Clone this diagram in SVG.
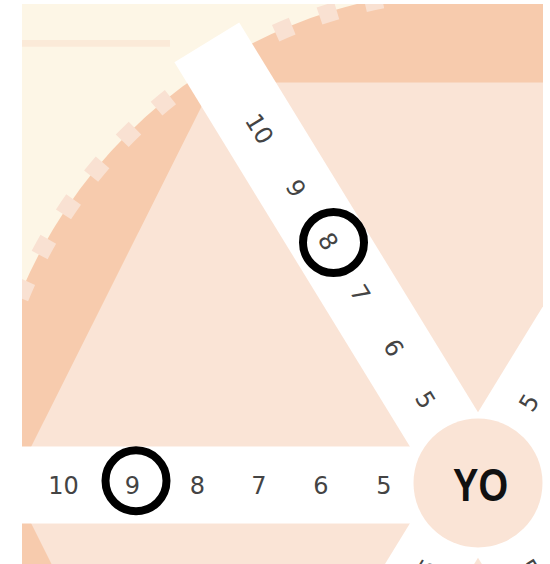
<svg xmlns="http://www.w3.org/2000/svg" width="550" height="564" viewBox="0 0 550 564">
  <defs>
    <clipPath id="frame"><rect x="22" y="4" width="521" height="560"/></clipPath>
    <style>
      .num{font-family:"DejaVu Sans","Liberation Sans",sans-serif;font-size:24px;fill:#444;text-anchor:middle}
      .spoke{fill:#ffffff}
      .ring{fill:none;stroke:#000000;stroke-width:8}
      .node-label{font-family:"Liberation Sans",Arial,sans-serif;font-size:46px;font-weight:bold;fill:#111111;text-anchor:middle}
    </style>
  </defs>
  <rect width="550" height="564" fill="#ffffff"/>
  <g id="background" clip-path="url(#frame)">
    <rect x="0" y="0" width="550" height="564" fill="#FDF6E6"/>
    <rect x="22" y="40" width="148" height="6.7" fill="#FBEAD8"/>
    <circle cx="478" cy="485" r="496" fill="#F7CBAD"/>
    <path d="M 973 485 A 495 495 0 0 1 -17 485 A 495 495 0 0 1 973 485 Z" fill="none" stroke="#F9E1D2" stroke-width="18" stroke-dasharray="18 29.124" stroke-dashoffset="43.76"/>
    <polygon points="12,485 213.5,82.5 600,82.5 600,600 69.5,600" fill="#FAE4D6"/>
  </g>
  <g id="connectors" clip-path="url(#frame)">
    <g id="spoke-left" transform="translate(478,485)">
      <rect class="spoke" x="-519" y="-38.5" width="519" height="77"/>
    </g>
    <g id="spoke-upper-left" transform="translate(478,485) rotate(58.5)">
      <rect class="spoke" x="-519" y="-38" width="519" height="76"/>
    </g>
    <g id="spoke-upper-right" transform="translate(478,485) rotate(121.5)">
      <rect class="spoke" x="-519" y="-38" width="519" height="76"/>
    </g>
    <g id="spoke-right" transform="translate(478,485) rotate(180)">
      <rect class="spoke" x="-519" y="-38.5" width="519" height="77"/>
    </g>
    <g id="spoke-lower-left" transform="translate(478,485) rotate(-58.5)">
      <rect class="spoke" x="-519" y="-38" width="519" height="76"/>
    </g>
    <g id="spoke-lower-right" transform="translate(478,485) rotate(-121.5)">
      <rect class="spoke" x="-519" y="-38" width="519" height="76"/>
    </g>
  </g>
  <g id="labels" clip-path="url(#frame)">
    <g id="scale-left">
      <text class="num" x="63.5" y="493.75">10</text>
      <text class="num" x="132.5" y="493.75">9</text>
      <text class="num" x="197.5" y="493.75">8</text>
      <text class="num" x="259" y="493.75">7</text>
      <text class="num" x="321" y="493.75">6</text>
      <text class="num" x="384" y="493.75">5</text>
    </g>
    <g id="scale-upper-left" transform="translate(478,485) rotate(58.5)">
      <text class="num" x="-418" y="8.75">10</text>
      <text class="num" x="-348" y="8.75">9</text>
      <text class="num" x="-286" y="8.75">8</text>
      <text class="num" x="-225" y="8.75">7</text>
      <text class="num" x="-161" y="8.75">6</text>
      <text class="num" x="-100" y="8.75">5</text>
    </g>
    <g id="scale-upper-right">
      <text class="num" transform="translate(528.7,402.3) rotate(-58.5)" y="8.75">5</text>
    </g>
    <g id="scale-lower-left">
      <text class="num" transform="translate(427.3,567.7) rotate(-58.5)" y="8.75">5</text>
    </g>
    <g id="scale-lower-right">
      <text class="num" transform="translate(528.7,567.7) rotate(58.5)" y="8.75">5</text>
    </g>
  </g>
  <g id="node-yo" clip-path="url(#frame)">
    <circle cx="478" cy="483" r="64.5" fill="#FAE4D6"/>
    <text class="node-label" x="480.5" y="501" textLength="55" lengthAdjust="spacingAndGlyphs">YO</text>
  </g>
  <g id="marks">
    <circle id="mark-left-9" class="ring" cx="136" cy="480.8" r="30.5"/>
    <circle id="mark-upper-left-8" class="ring" cx="333.5" cy="242.5" r="30.5"/>
  </g>
</svg>
